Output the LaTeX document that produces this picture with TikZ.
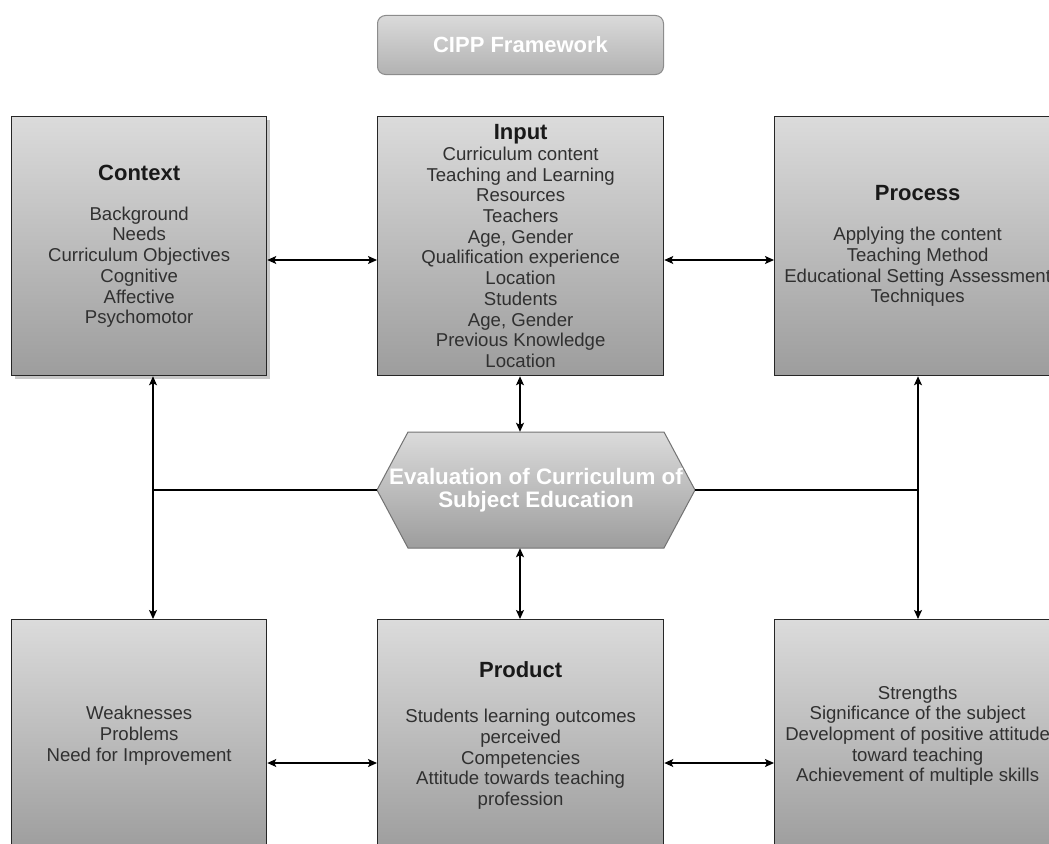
\documentclass[tikz,border=0pt]{standalone}
\usepackage{fontspec}
\setmainfont{Liberation Sans}
\usetikzlibrary{arrows.meta,shadows}
\definecolor{topg}{HTML}{DBDBDB}
\definecolor{botg}{HTML}{9D9D9D}
\definecolor{ttop}{HTML}{DADADA}
\definecolor{tbot}{HTML}{B2B2B2}
\definecolor{bodytxt}{HTML}{303030}
\newcommand{\bodyfont}{\fontsize{18.6}{20.7}\selectfont}
\newcommand{\hdr}[1]{{\bfseries\fontsize{22}{24}\selectfont\color{black!90}#1}}
\begin{document}
\begin{tikzpicture}[x=1pt,y=-1pt,
  box/.style={draw=black!85, line width=1.3pt, top color=topg, bottom color=botg,
    anchor=north west, align=center, inner sep=0pt, text=bodytxt, font=\bodyfont},
  conn/.style={line width=1.3pt, black,
    {Stealth[length=9pt,width=8pt,inset=2pt]}-{Stealth[length=9pt,width=8pt,inset=2pt]}},
  plain/.style={line width=1.3pt, black}]
\useasboundingbox (0,0) rectangle (1049,843);
\clip (0,0) rectangle (1049,843);
\fill[white] (0,0) rectangle (1049,843);

% title
\node[rounded corners=8pt, draw=black!45, line width=1pt, top color=ttop, bottom color=tbot,
  minimum width=286pt, minimum height=59pt, anchor=north west, text=white,
  font=\bfseries\fontsize{22}{24}\selectfont] (title) at (377,15) {CIPP Framework};

% top row
\node[box, minimum width=255pt, minimum height=259pt,
  drop shadow={shadow xshift=3pt, shadow yshift=-3pt, opacity=0.22, fill=black}]
  (context) at (11,116)
  {\hdr{Context}\\[19.5pt]Background\\Needs\\Curriculum Objectives\\Cognitive\\Affective\\Psychomotor};
\node[box, minimum width=286pt, minimum height=259pt] (input) at (377,116)
  {\hdr{Input}\\Curriculum content\\Teaching and Learning\\Resources\\Teachers\\Age, Gender\\Qualification experience\\Location\\Students\\Age, Gender\\Previous Knowledge\\Location};
\node[box, minimum width=286pt, minimum height=259pt] (process) at (774,116)
  {\hdr{Process}\\[19.5pt]Applying the content\\Teaching Method\\Educational Setting Assessment\\Techniques};

% bottom row
\node[box, minimum width=255pt, minimum height=232pt] (weak) at (11,619)
  {Weaknesses\\Problems\\Need for Improvement};
\node[box, minimum width=286pt, minimum height=232pt] (product) at (377,619)
  {\hdr{Product}\\[24pt]Students learning outcomes\\perceived\\Competencies\\Attitude towards teaching\\profession};
\node[box, minimum width=286pt, minimum height=232pt] (strength) at (774,619)
  {Strengths\\Significance of the subject\\Development of positive attitude\\toward teaching\\Achievement of multiple skills};

% hexagon
\path[draw=black!55, line width=1pt, top color=topg, bottom color=botg]
  (377,490) -- (408,432) -- (664,432) -- (695,490) -- (664,548) -- (408,548) -- cycle;
\node[minimum width=318pt, minimum height=116pt, inner sep=0pt, align=center, text=white,
  font=\bfseries\fontsize{22.4}{23.5}\selectfont] (hex) at (536,490)
  {Evaluation of Curriculum of\\Subject Education};

% helper coordinates
\coordinate (lj) at (153,490);
\coordinate (rj) at (918,490);
\coordinate (ytop) at (0,260);
\coordinate (ybot) at (0,763);
\coordinate (xin) at (520,0);

% connectors
\draw[conn] (context.east |- ytop) -- (input.west |- ytop);
\draw[conn] (input.east |- ytop) -- (process.west |- ytop);
\draw[conn] (weak.east |- ybot) -- (product.west |- ybot);
\draw[conn] (product.east |- ybot) -- (strength.west |- ybot);
\draw[conn] (xin |- input.south) -- (xin |- hex.north);
\draw[conn] (xin |- hex.south) -- (xin |- product.north);
\draw[conn] (lj |- context.south) -- (lj |- weak.north);
\draw[conn] (rj |- process.south) -- (rj |- strength.north);
\draw[plain] (hex.west) -- (lj);
\draw[plain] (hex.east) -- (rj);
\end{tikzpicture}
\end{document}
